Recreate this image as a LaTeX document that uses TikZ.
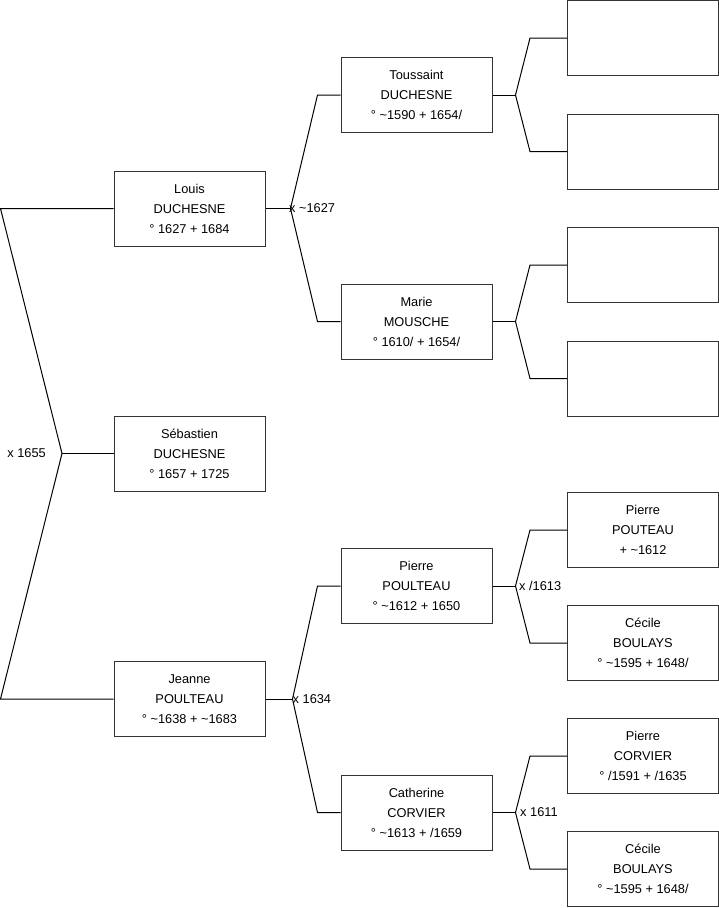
\documentclass[tikz,border=0pt]{standalone}
\usepackage{fontspec}
\setmainfont{Liberation Sans}
\usepackage{tikz}
\usetikzlibrary{calc}

\begin{document}
\begin{tikzpicture}[
  x=1pt,y=-1pt,
  every node/.style={font=\fontsize{12.8}{20}\selectfont},
  person/.style={draw=black!80,line width=1pt,minimum width=151pt,minimum height=75pt,
                 align=center,inner sep=0pt},
  link/.style={black,line width=1pt},
  wed/.style={anchor=west,inner sep=0pt},
  ]
  \useasboundingbox (0,0) rectangle (719,908);

  %─── Generation 1 ───────────────────────────────────────────────────────────
  \node[person] (louis)   at (189.5,208.5) {Louis\\DUCHESNE\\° 1627 + 1684};
  \node[person] (sebast)  at (189.5,453.5) {Sébastien\\DUCHESNE\\° 1657 + 1725};
  \node[person] (jeanne)  at (189.5,699)   {Jeanne\\POULTEAU\\° {\textasciitilde}1638 + {\textasciitilde}1683};

  %─── Generation 2 ───────────────────────────────────────────────────────────
  \node[person] (touss)   at (416.5,95)    {Toussaint\\DUCHESNE\\° {\textasciitilde}1590 + 1654/};
  \node[person] (marie)   at (416.5,321.5) {Marie\\MOUSCHE\\° 1610/ + 1654/};
  \node[person] (pierrep) at (416.5,586)   {Pierre\\POULTEAU\\° {\textasciitilde}1612 + 1650};
  \node[person] (cath)    at (416.5,812.5) {Catherine\\CORVIER\\° {\textasciitilde}1613 + /1659};

  %─── Generation 3 ───────────────────────────────────────────────────────────
  \node[person] (ga) at (643,38)    {};
  \node[person] (gb) at (643,151.5) {};
  \node[person] (gc) at (643,265)   {};
  \node[person] (gd) at (643,378.5) {};
  \node[person] (ge) at (643,530)   {Pierre\\POUTEAU\\+ {\textasciitilde}1612};
  \node[person] (gf) at (643,643)   {Cécile\\BOULAYS\\° {\textasciitilde}1595 + 1648/};
  \node[person] (gg) at (643,756)   {Pierre\\CORVIER\\° /1591 + /1635};
  \node[person] (gh) at (643,869)   {Cécile\\BOULAYS\\° {\textasciitilde}1595 + 1648/};

  %─── Root fork ──────────────────────────────────────────────────────────────
  \coordinate (rtop) at (louis.west -| 0.5,0);
  \coordinate (rbot) at (jeanne.west -| 0.5,0);
  \coordinate (rfork) at (62,453.5);
  \draw[link] (louis.west) -- (rtop) -- (rfork) -- (rbot) -- (jeanne.west);
  \draw[link] (rfork) -- (sebast.west);
  \node[anchor=east,inner sep=0pt] (m0) at (46,453.5) {x 1655};

  %─── Louis x Marie ──────────────────────────────────────────────────────────
  \coordinate (lfork) at ($(louis.east)+(25,0)$);
  \draw[link] (louis.east) -- (lfork);
  \draw[link] (touss.west) -- ++(-23,0) -- (lfork) -- ($(marie.west)+(-23,0)$) -- (marie.west);
  \node[wed] (m1) at ($(lfork)+(-1.5,0)$) {x {\textasciitilde}1627};

  %─── Jeanne fork ────────────────────────────────────────────────────────────
  \coordinate (jfork) at ($(jeanne.east)+(27,0)$);
  \draw[link] (jeanne.east) -- (jfork);
  \draw[link] (pierrep.west) -- ++(-23,0) -- (jfork) -- ($(cath.west)+(-23,0)$) -- (cath.west);
  \node[wed] (m2) at (jfork) {x 1634};

  %─── Generation 2 forks ─────────────────────────────────────────────────────
  \foreach \kid/\up/\down in {touss/ga/gb,marie/gc/gd,pierrep/ge/gf,cath/gg/gh}{
    \coordinate (\kid-f) at ($(\kid.east)+(23,0)$);
    \draw[link] (\kid.east) -- (\kid-f);
    \draw[link] (\up.west) -- ++(-37,0) -- (\kid-f) -- ($(\down.west)+(-37,0)$) -- (\down.west);
  }
  \node[wed] (m3) at ($(pierrep-f)+(3.5,0)$) {x /1613};
  \node[wed] (m4) at ($(cath-f)+(4.5,0)$) {x 1611};

\end{tikzpicture}
\end{document}
